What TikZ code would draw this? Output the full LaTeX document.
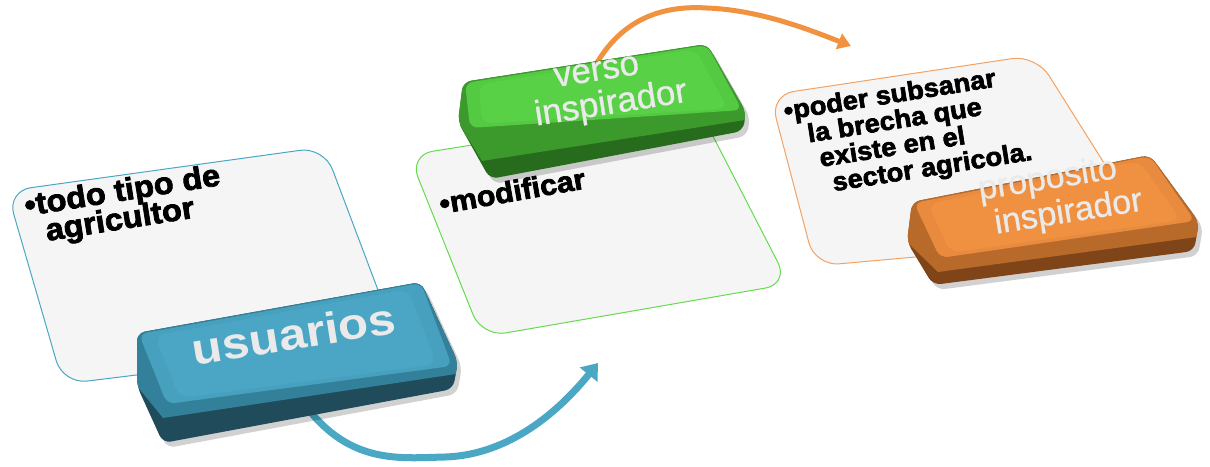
\documentclass[tikz,border=0pt]{standalone}
\usepackage{fontspec}
\setmainfont{Liberation Sans}
\newfontfamily\heavy{Liberation Sans}[BoldFeatures={FakeBold=2.5,FakeStretch=1.05}]
\newfontfamily\keybold{Liberation Sans}[BoldFeatures={FakeStretch=1.12}]
\newfontfamily\keyreg{Liberation Sans}[UprightFeatures={FakeBold=0.8}]
\newcommand{\tightls}{\lineskiplimit=-50pt\relax}
\usetikzlibrary{arrows.meta,calc}
\definecolor{panelfill}{HTML}{F5F5F5}
\definecolor{pblue}{HTML}{4AA7C3}
\definecolor{pgreen}{HTML}{66DA50}
\definecolor{porange}{HTML}{F2A262}
\definecolor{btop}{HTML}{4AA6C4}
\definecolor{bband}{HTML}{33809A}
\definecolor{bfront}{HTML}{1F4B5A}
\definecolor{gtop}{HTML}{58D146}
\definecolor{gband}{HTML}{3C9A2D}
\definecolor{gfront}{HTML}{276B1C}
\definecolor{otop}{HTML}{F09141}
\definecolor{oband}{HTML}{B86A2B}
\definecolor{ofront}{HTML}{7F4519}
\definecolor{arrblue}{HTML}{4AA8C4}
\definecolor{arrorange}{HTML}{F0923F}
\definecolor{keywhite}{HTML}{EAEAEA}
\newcommand{\keycapdraw}[4]{%
  \fill[black,opacity=0.18,rounded corners=8pt] ($(#1T1)+(4,5)$)--($(#1T2)+(4,5)$)--($(#1R1)+(4,5)$)--($(#1F3)+(4,5)$)--($(#1F4)+(4,5)$)--($(#1L1)+(4,5)$)--cycle;
  \fill[#4,rounded corners=8pt] (#1T1)--(#1T2)--(#1R1)--(#1F3)--(#1F4)--(#1L1)--cycle;
  \begin{scope}
    \clip[rounded corners=8pt] (#1T1)--(#1T2)--(#1R1)--(#1F3)--(#1F4)--(#1L1)--cycle;
    \fill[#3] (#1T1)--(#1T2)--(#1R1)--(#1M3)--(#1M4)--(#1L1)--cycle;
  \end{scope}
  \fill[#2!85!#3,rounded corners=8pt] (#1A)--(#1B)--(#1C)--(#1D)--cycle;
  \fill[#2,rounded corners=10pt] ($(#1A)!0.05!(#1C)$)--($(#1B)!0.05!(#1D)$)--($(#1C)!0.05!(#1A)$)--($(#1D)!0.05!(#1B)$)--cycle;
}
\tikzset{
  panel/.style={fill=panelfill, line width=1pt, rounded corners=24pt},
  ptext/.style={anchor=west, inner sep=0pt, rotate=9, text=black, align=left},
  ktext/.style={anchor=center, inner sep=0pt, rotate=9, text=keywhite, align=center},
}
\begin{document}
\begin{tikzpicture}[x=1pt,y=-1pt]
\useasboundingbox (0,0) rectangle (1210,466);
% panels
\draw[panel, draw=pblue] (7,191) -- (324,147) -- (398,343) -- (63,384) -- cycle;
\draw[panel, draw=pgreen] (409,155) -- (699,109) -- (789,284) -- (482,337) -- cycle;
\draw[panel, draw=porange] (770,95) -- (1036,55) -- (1150,236) -- (815,266) -- cycle;
% panel texts
\node[ptext, font=\heavy\bfseries\fontsize{31}{28}\selectfont\tightls] (t1) at (26.9,222) {\textbullet todo tipo de\\\hspace*{17pt}agricultor};
\node[ptext, anchor=base west, rotate=1, font=\heavy\bfseries\fontsize{29}{29}\selectfont] (t2) at (441,214) {\textbullet modificar};
\node[ptext, font=\heavy\bfseries\fontsize{26}{26}\selectfont\tightls] (t3) at (790,151.9) {\textbullet poder subsanar\\\hspace*{20pt}la brecha que\\\hspace*{28pt}existe en el\\\hspace*{37pt}sector agricola.};
% arrows
\coordinate (a1s) at (305,405);
\coordinate (a1m) at (445,457);
\coordinate (a1e) at (598,363);
\draw[arrblue, line width=7pt, -{Triangle[width=22pt,length=15pt]}] (a1s) .. controls (350,465) and (400,458) .. (a1m) .. controls (510,455) and (560,410) .. (a1e);
\coordinate (a2s) at (588,80);
\coordinate (a2m) at (707,8);
\coordinate (a2e) at (851,46);
\draw[arrorange, line width=5pt, -{Triangle[width=16pt,length=13pt]}] (a2s) .. controls (615,20) and (660,5) .. (a2m) .. controls (760,10) and (810,30) .. (a2e);
% keycap usuarios
\coordinate (uT1) at (137,333); \coordinate (uT2) at (421,282); \coordinate (uR1) at (458,362);
\coordinate (uF3) at (453,389); \coordinate (uF4) at (163,443); \coordinate (uL1) at (137,386);
\coordinate (uM3) at (456,374); \coordinate (uM4) at (163,418);
\coordinate (uA) at (139,334); \coordinate (uB) at (421,283); \coordinate (uC) at (452,366); \coordinate (uD) at (167,404);
\keycapdraw{u}{btop}{bband}{bfront}
\node[ktext, anchor=base, font=\keybold\bfseries\fontsize{44}{44}\selectfont] (u) at (296,349) {usuarios};
% keycap verso inspirador
\coordinate (vT1) at (463,82); \coordinate (vT2) at (707,44); \coordinate (vR1) at (746,112);
\coordinate (vF3) at (743,131); \coordinate (vF4) at (490,179); \coordinate (vL1) at (458,122);
\coordinate (vM3) at (745,120); \coordinate (vM4) at (482,161);
\coordinate (vA) at (465,83); \coordinate (vB) at (707,45); \coordinate (vC) at (742,110); \coordinate (vD) at (470,128);
\keycapdraw{v}{gtop}{gband}{gfront}
\node[ktext, font=\keyreg\fontsize{35}{35}\selectfont\tightls] (v) at (599.9,92) {verso\\\hspace*{18pt}inspirador};
% keycap proposito inspirador
\coordinate (pT1) at (912,202); \coordinate (pT2) at (1150,155); \coordinate (pR1) at (1199,222);
\coordinate (pF3) at (1194,251); \coordinate (pF4) at (933,285); \coordinate (pL1) at (907,242);
\coordinate (pM3) at (1197,237); \coordinate (pM4) at (938,272);
\coordinate (pA) at (914,203); \coordinate (pB) at (1150,156); \coordinate (pC) at (1195,221); \coordinate (pD) at (940,258);
\keycapdraw{p}{otop}{oband}{ofront}
\node[ktext, font=\keyreg\fontsize{34}{36}\selectfont\tightls] (p) at (1050.5,198) {proposito\\\hspace*{31pt}inspirador};
\end{tikzpicture}
\end{document}
